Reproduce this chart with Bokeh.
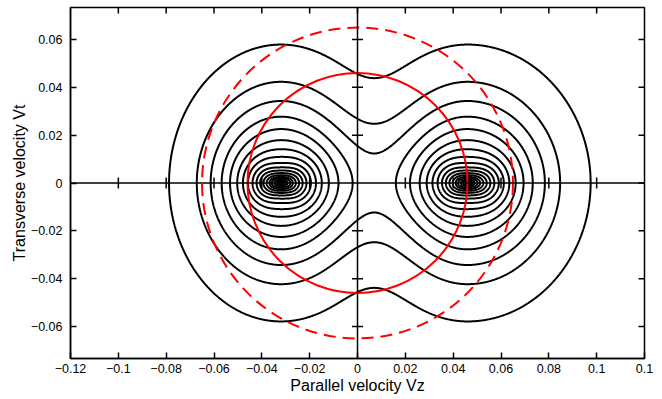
import numpy as np
from bokeh.plotting import figure
from bokeh.models import FixedTicker, Range1d, Span
from bokeh.embed import file_html
from bokeh.resources import INLINE

# ---------------- values ----------------
x_ticks = [-0.12, -0.1, -0.08, -0.06, -0.04, -0.02, 0, 0.02, 0.04, 0.06, 0.08, 0.1, 0.12]
x_tick_labels = ["−0.12", "−0.1", "−0.08", "−0.06", "−0.04", "−0.02", "0",
                 "0.02", "0.04", "0.06", "0.08", "0.1", "0.1"]
y_ticks = [-0.06, -0.04, -0.02, 0, 0.02, 0.04, 0.06]
y_tick_labels = ["−0.06", "−0.04", "−0.02", "0", "0.02", "0.04", "0.06"]

# two beams of the distribution (centre in Vz, width factor on the outer side)
beam_center_vz = [-0.032, 0.046]
beam_outer_stretch = [1.0, 1.1]
beam_core_scale = 0.1        # cusp scale of each beam
beam_tail_scale = 0.041      # tail scale of each beam
beam_aspect = [0.78, 1.2, 0.009]   # Vt/Vz shape of the beams vs. size

# contour levels of -ln f
contour_levels = [0.00901, 0.01808, 0.02729, 0.0388, 0.0496, 0.06313, 0.07865,
                  0.09656, 0.1174, 0.14345, 0.17613, 0.21732, 0.27192, 0.35321,
                  0.46931, 0.66271, 0.98481, 1.95525]

circle_radius = [0.046, 0.065]
circle_dash = ["solid", "12 7"]

X_RANGE = (-0.12, 0.12)
Y_RANGE = (-0.0734, 0.0734)

# ---------------- distribution field ----------------
vz = np.linspace(X_RANGE[0], X_RANGE[1], 961)
vt = np.linspace(-0.0738, 0.0738, 591)
VZ, VT = np.meshgrid(vz, vt)

def beam_g(center, outer_stretch, outer_sign):
    dx = VZ - center
    dx = np.where(np.sign(dx) == outer_sign, dx / outer_stretch, dx)
    r0 = np.hypot(dx, VT)
    a = beam_aspect[0] + beam_aspect[1] / (1.0 + (r0 / beam_aspect[2]) ** 2)
    r = np.hypot(dx, a * VT)
    return r / beam_core_scale + (r / beam_tail_scale) ** 3

gL = beam_g(beam_center_vz[0], beam_outer_stretch[0], -1)
gR = beam_g(beam_center_vz[1], beam_outer_stretch[1], 1)
G = -np.logaddexp(-gL, -gR)

# ---------------- figure ----------------
FONT = "Liberation Sans"
p = figure(frame_width=574, frame_height=351, width=660, height=398,
           x_range=Range1d(*X_RANGE), y_range=Range1d(*Y_RANGE),
           output_backend="svg", toolbar_location=None,
           min_border_left=70, min_border_right=16, min_border_top=7, min_border_bottom=40)
p.xgrid.visible = False
p.ygrid.visible = False
p.outline_line_color = "black"
p.outline_line_width = 1.5
p.background_fill_color = "white"
p.border_fill_color = "white"

p.contour(vz, vt, G, levels=contour_levels, fill_color=None,
          line_color="black", line_width=2)

# central axes with crossing ticks
p.add_layout(Span(location=0, dimension="height", line_color="black", line_width=1.5))
p.add_layout(Span(location=0, dimension="width", line_color="black", line_width=1.5))
xt_in = [t for t in x_ticks if t != 0 and abs(t) < 0.12]
yt_in = [t for t in y_ticks if t != 0]
p.scatter(x=xt_in, y=[0] * len(xt_in), marker="dash", size=11, angle=np.pi / 2,
          line_color="black", line_width=1.5)
p.scatter(x=[0] * len(yt_in), y=yt_in, marker="dash", size=11,
          line_color="black", line_width=1.5)

# inward ticks on the top and right frame edges (half of each dash is clipped)
xt_all = [t for t in x_ticks if abs(t) < 0.12]
p.scatter(x=xt_all, y=[Y_RANGE[1]] * len(xt_all), marker="dash", size=12,
          angle=np.pi / 2, line_color="black", line_width=1.5)
p.scatter(x=[X_RANGE[1]] * len(y_ticks), y=y_ticks, marker="dash", size=12,
          line_color="black", line_width=1.5)

for r, d in zip(circle_radius, circle_dash):
    p.ellipse(x=0, y=0, width=2 * r, height=2 * r, fill_color=None,
              line_color="red", line_width=2, line_dash=d)

def style(ax, ticks, labels):
    ax.ticker = FixedTicker(ticks=ticks)
    ax.major_label_overrides = {t: l for t, l in zip(ticks, labels)}
    ax.major_tick_in = 6
    ax.major_tick_out = 0
    ax.minor_tick_line_color = None
    ax.axis_line_color = "black"
    ax.axis_line_width = 1.5
    ax.major_tick_line_width = 1.5
    ax.major_label_text_font = FONT
    ax.major_label_text_color = "black"
    ax.major_label_text_font_size = "12.5px"
    ax.axis_label_text_font = FONT
    ax.axis_label_text_font_size = "16px"
    ax.axis_label_text_font_style = "normal"
    ax.axis_label_text_color = "black"

style(p.xaxis[0], x_ticks, x_tick_labels)
p.xaxis[0].axis_label = "Parallel velocity Vz"
p.xaxis[0].major_label_standoff = 5
p.xaxis[0].axis_label_standoff = 1
style(p.yaxis[0], y_ticks, y_tick_labels)
p.yaxis[0].axis_label = "Transverse velocity Vt"
p.yaxis[0].major_label_standoff = 8
p.yaxis[0].axis_label_standoff = 0

open("out.html", "w").write(file_html(p, INLINE))
